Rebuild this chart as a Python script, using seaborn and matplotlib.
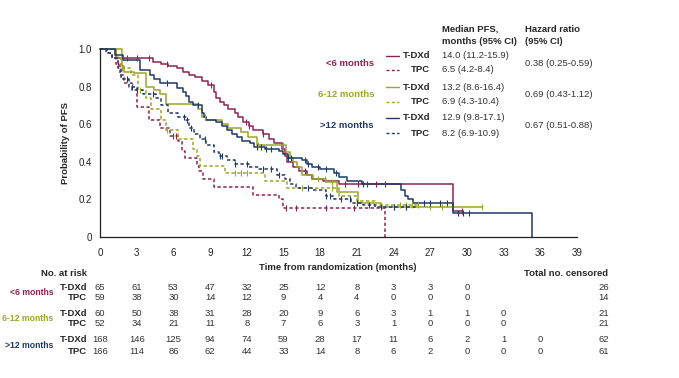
import numpy as np
import pandas as pd
import matplotlib
matplotlib.use("Agg")
import matplotlib.pyplot as plt
from matplotlib.lines import Line2D
import seaborn as sns

# ------------------------------------------------------------------
# DATA
# ------------------------------------------------------------------
lt6_tdxd_t = [0, 1.3, 4.3, 5.0, 5.6, 6.3, 6.8, 7.3, 7.8, 8.3, 8.8, 9.3, 9.5, 9.8, 10.1, 10.5, 11.0,
              11.3, 11.7, 12.2, 12.5, 13.3, 13.8, 14.2, 14.9, 15.1, 15.3, 15.8, 16.3, 16.9, 17.3,
              18.2, 19.5, 28.9, 29.6]
lt6_tdxd_s = [1.0, 0.95, 0.93, 0.92, 0.91, 0.90, 0.88, 0.86, 0.85, 0.83, 0.81, 0.77, 0.74, 0.72,
              0.70, 0.68, 0.66, 0.64, 0.61, 0.59, 0.57, 0.55, 0.52, 0.50, 0.47, 0.43, 0.40, 0.37,
              0.35, 0.33, 0.31, 0.30, 0.28, 0.14, 0.14]
lt6_tdxd_cens = [2.2, 3.0, 4.0, 5.5, 9.1, 11.9, 12.2, 13.3, 16.8, 20.0, 21.1, 21.8, 22.6, 23.3, 29.6]

lt6_tpc_t = [0, 0.5, 1.0, 1.3, 1.6, 2.0, 2.6, 3.0, 4.0, 4.9, 5.7, 6.4, 6.7, 6.95, 7.9, 8.1, 8.4,
             9.3, 12.5, 14.6, 15.0, 23.3]
lt6_tpc_s = [1.0, 0.98, 0.95, 0.92, 0.86, 0.82, 0.78, 0.69, 0.62, 0.58, 0.535, 0.51, 0.46, 0.42,
             0.38, 0.35, 0.31, 0.265, 0.225, 0.20, 0.155, 0.0]
lt6_tpc_cens = [1.5, 6.0, 6.2, 15.2, 16.0, 18.5, 20.8]

mid_tdxd_t = [0, 1.8, 2.0, 2.8, 3.8, 4.4, 4.9, 5.4, 8.0, 8.3, 8.7, 10.0, 10.5, 11.5, 12.1, 12.8,
              15.2, 15.5, 15.8, 16.1, 16.5, 17.4, 18.5, 19.4, 21.1, 23.0, 31.2]
mid_tdxd_s = [1.0, 0.91, 0.88, 0.87, 0.80, 0.78, 0.76, 0.71, 0.68, 0.64, 0.62, 0.60, 0.58, 0.56,
              0.53, 0.49, 0.45, 0.42, 0.40, 0.37, 0.33, 0.31, 0.29, 0.24, 0.18, 0.16, 0.16]
mid_tdxd_cens = [8.6, 12.9, 15.0, 17.8, 18.4, 19.0, 24.0, 25.0, 27.0, 28.0, 31.2]

mid_tpc_t = [0, 1.3, 1.7, 2.5, 3.1, 3.8, 4.2, 5.0, 5.4, 6.4, 7.6, 7.9, 8.2, 10.2, 13.5, 15.3,
             19.5, 21.0, 22.5, 26.0]
mid_tpc_s = [1.0, 0.96, 0.90, 0.86, 0.78, 0.74, 0.68, 0.62, 0.57, 0.52, 0.47, 0.43, 0.38, 0.34,
             0.30, 0.26, 0.22, 0.19, 0.17, 0.17]
mid_tpc_cens = [1.8, 3.3, 5.5, 11.0, 11.5, 12.0, 16.5, 19.0, 24.5, 25.0, 25.5, 26.0]

gt12_tdxd_t = [0, 1.2, 1.9, 3.3, 4.1, 4.4, 4.9, 6.3, 6.8, 7.0, 7.3, 7.6, 8.3, 8.5, 8.7, 9.5, 10.0,
               10.4, 10.8, 11.2, 11.6, 12.3, 12.6, 13.5, 14.6, 15.0, 15.4, 16.5, 16.9, 17.3, 18.0,
               19.1, 19.5, 20.2, 21.4, 24.6, 24.9, 25.2, 25.6, 28.9, 35.3]
gt12_tdxd_s = [1.0, 0.97, 0.94, 0.89, 0.86, 0.84, 0.82, 0.79, 0.77, 0.75, 0.72, 0.70, 0.66, 0.64,
               0.62, 0.61, 0.59, 0.57, 0.55, 0.53, 0.51, 0.50, 0.48, 0.47, 0.46, 0.44, 0.42, 0.41,
               0.39, 0.37, 0.36, 0.34, 0.32, 0.30, 0.28, 0.25, 0.22, 0.20, 0.18, 0.13, 0.0]
gt12_tdxd_cens = [5.5, 8.0, 12.8, 13.2, 13.6, 14.0, 15.4, 15.6, 16.8, 17.0, 17.8, 18.5, 19.3, 21.5,
                  26.5, 27.0, 27.8, 28.4, 29.3, 29.7, 30.2]

gt12_tpc_t = [0, 0.6, 1.0, 1.5, 1.7, 2.4, 3.0, 3.5, 4.6, 5.0, 5.6, 6.4, 7.0, 7.3, 7.7, 8.2, 8.7,
              9.3, 9.7, 10.4, 11.0, 12.2, 13.0, 14.5, 15.1, 15.5, 16.0, 17.4, 18.5, 19.1, 20.5,
              21.5, 22.5, 26.0]
gt12_tpc_s = [1.0, 0.98, 0.95, 0.90, 0.84, 0.80, 0.78, 0.76, 0.74, 0.70, 0.66, 0.64, 0.62, 0.58,
              0.55, 0.52, 0.49, 0.45, 0.43, 0.41, 0.39, 0.37, 0.36, 0.33, 0.31, 0.28, 0.26, 0.25,
              0.22, 0.20, 0.18, 0.17, 0.16, 0.16]
gt12_tpc_cens = [2.2, 2.6, 3.0, 4.3, 6.9, 7.1, 7.4, 8.6, 9.8, 10.0, 11.0, 12.0, 13.3, 14.0, 14.6,
                 17.0, 18.5, 18.8, 19.7, 20.4, 21.0, 22.0, 23.0, 24.0, 25.0]

groups = ["<6 months", "6-12 months", ">12 months"]
arms = ["T-DXd", "TPC"]
group_colors = ["#8c2452", "#9ba52c", "#1f3a66"]

median_pfs = [["14.0 (11.2-15.9)", "6.5 (4.2-8.4)"],
              ["13.2 (8.6-16.4)", "6.9 (4.3-10.4)"],
              ["12.9 (9.8-17.1)", "8.2 (6.9-10.9)"]]
hazard_ratio = ["0.38 (0.25-0.59)", "0.69 (0.43-1.12)", "0.67 (0.51-0.88)"]

risk_times = [0, 3, 6, 9, 12, 15, 18, 21, 24, 27, 30, 33, 36]
at_risk = [[[65, 61, 53, 47, 32, 25, 12, 8, 3, 3, 0],
            [59, 38, 30, 14, 12, 9, 4, 4, 0, 0, 0]],
           [[60, 50, 38, 31, 28, 20, 9, 6, 3, 1, 1, 0],
            [52, 34, 21, 11, 8, 7, 6, 3, 1, 0, 0, 0]],
           [[168, 146, 125, 94, 74, 59, 28, 17, 11, 6, 2, 1, 0],
            [166, 114, 86, 62, 44, 33, 14, 8, 6, 2, 0, 0, 0]]]
censored = [[26, 14], [21, 21], [62, 61]]

curves = [[(lt6_tdxd_t, lt6_tdxd_s, lt6_tdxd_cens), (lt6_tpc_t, lt6_tpc_s, lt6_tpc_cens)],
          [(mid_tdxd_t, mid_tdxd_s, mid_tdxd_cens), (mid_tpc_t, mid_tpc_s, mid_tpc_cens)],
          [(gt12_tdxd_t, gt12_tdxd_s, gt12_tdxd_cens), (gt12_tpc_t, gt12_tpc_s, gt12_tpc_cens)]]

# ------------------------------------------------------------------
# FIGURE
# ------------------------------------------------------------------
sns.set_style("white")
plt.rcParams["font.family"] = ["Liberation Sans", "DejaVu Sans"]

W, H = 679, 378
fig = plt.figure(figsize=(W / 100, H / 100), dpi=100)


def fx(x):
    return x / W


def fy(y):
    return 1 - y / H


ax = fig.add_axes([fx(100), fy(237), fx(577) - fx(100), fy(49) - fy(237)])

for gi, grp in enumerate(curves):
    for ai, (t, s, cens) in enumerate(grp):
        ls = "-" if ai == 0 else (0, (2.2, 1.6))
        df = pd.DataFrame({"t": t, "s": s})
        sns.lineplot(data=df, x="t", y="s", ax=ax, color=group_colors[gi], linewidth=1.1,
                     drawstyle="steps-post", estimator=None, sort=False, linestyle=ls,
                     clip_on=False)
        # survival at censoring times
        idx = np.searchsorted(np.array(t), np.array(cens), side="right") - 1
        cdf = pd.DataFrame({"t": cens, "s": np.array(s)[idx]})
        sns.scatterplot(data=cdf, x="t", y="s", ax=ax, marker="|", s=22, linewidth=0.8,
                        color=group_colors[gi], clip_on=False, zorder=3)

ax.set_xlim(0, 39)
ax.set_ylim(0, 1.0)
ax.set_xticks(np.arange(0, 40, 3))
ax.set_yticks([0, 0.2, 0.4, 0.6, 0.8, 1.0])
ax.set_yticklabels(["0", "0.2", "0.4", "0.6", "0.8", "1.0"])
ax.tick_params(axis="both", labelsize=7, length=3, width=0.8, pad=3, colors="#222222",
               direction="out")
ax.tick_params(axis="x", pad=5)
for side in ["top", "right"]:
    ax.spines[side].set_visible(False)
for side in ["left", "bottom"]:
    ax.spines[side].set_linewidth(0.9)
    ax.spines[side].set_color("#222222")
ax.set_xlabel("")
ax.set_ylabel("")

fs = 6.8
fig.text(fx(65), fy(143), "Probability of PFS", rotation=90, ha="center", va="center",
         fontsize=fs, fontweight="bold")
fig.text(fx(338), fy(267), "Time from randomization (months)", ha="center", va="center",
         fontsize=fs, fontweight="bold")

# legend block with medians and hazard ratios
fig.text(fx(442), fy(29), "Median PFS,", ha="left", va="center", fontsize=fs, fontweight="bold")
fig.text(fx(442), fy(41), "months (95% CI)", ha="left", va="center", fontsize=fs,
         fontweight="bold")
fig.text(fx(525), fy(29), "Hazard ratio", ha="left", va="center", fontsize=fs,
         fontweight="bold")
fig.text(fx(525), fy(41), "(95% CI)", ha="left", va="center", fontsize=fs, fontweight="bold")

leg_rows = [(56, 70), (87, 102), (118, 133)]
for gi, grp in enumerate(groups):
    y1, y2 = leg_rows[gi]
    ym = (y1 + y2) / 2
    fig.text(fx(374), fy(ym), grp, ha="right", va="center", fontsize=fs, fontweight="bold",
             color=group_colors[gi])
    for ai, yy in enumerate([y1, y2]):
        ls = "-" if ai == 0 else (0, (2.2, 1.6))
        fig.add_artist(Line2D([fx(386), fx(399)], [fy(yy), fy(yy)], color=group_colors[gi],
                              linewidth=1.0, linestyle=ls))
        fig.text(fx(430), fy(yy), arms[ai], ha="right", va="center", fontsize=fs,
                 fontweight="bold")
        fig.text(fx(442), fy(yy), median_pfs[gi][ai], ha="left", va="center", fontsize=fs,
                 color="#333333")
    fig.text(fx(525), fy(ym), hazard_ratio[gi], ha="left", va="center", fontsize=fs,
             color="#333333")

# number at risk table
fig.text(fx(87), fy(273), "No. at risk", ha="right", va="center", fontsize=fs,
         fontweight="bold")
fig.text(fx(608), fy(273), "Total no. censored", ha="right", va="center", fontsize=fs,
         fontweight="bold")
risk_rows = [(287, 298), (313, 324), (340, 351)]
for gi, grp in enumerate(groups):
    y1, y2 = risk_rows[gi]
    fig.text(fx(53), fy((y1 + y2) / 2), grp, ha="right", va="center", fontsize=6.2,
             fontweight="bold", color=group_colors[gi])
    for ai, yy in enumerate([y1, y2]):
        fig.text(fx(87), fy(yy), arms[ai], ha="right", va="center", fontsize=fs,
                 fontweight="bold")
        for ti, n in enumerate(at_risk[gi][ai]):
            xpix = ax.transData.transform((risk_times[ti], 0))[0]
            fig.text(xpix / W, fy(yy), str(n), ha="center", va="center", fontsize=fs,
                     color="#333333")
        fig.text(fx(609), fy(yy), str(censored[gi][ai]), ha="right", va="center", fontsize=fs,
                 color="#333333")

fig.savefig("out.png", dpi=100)
